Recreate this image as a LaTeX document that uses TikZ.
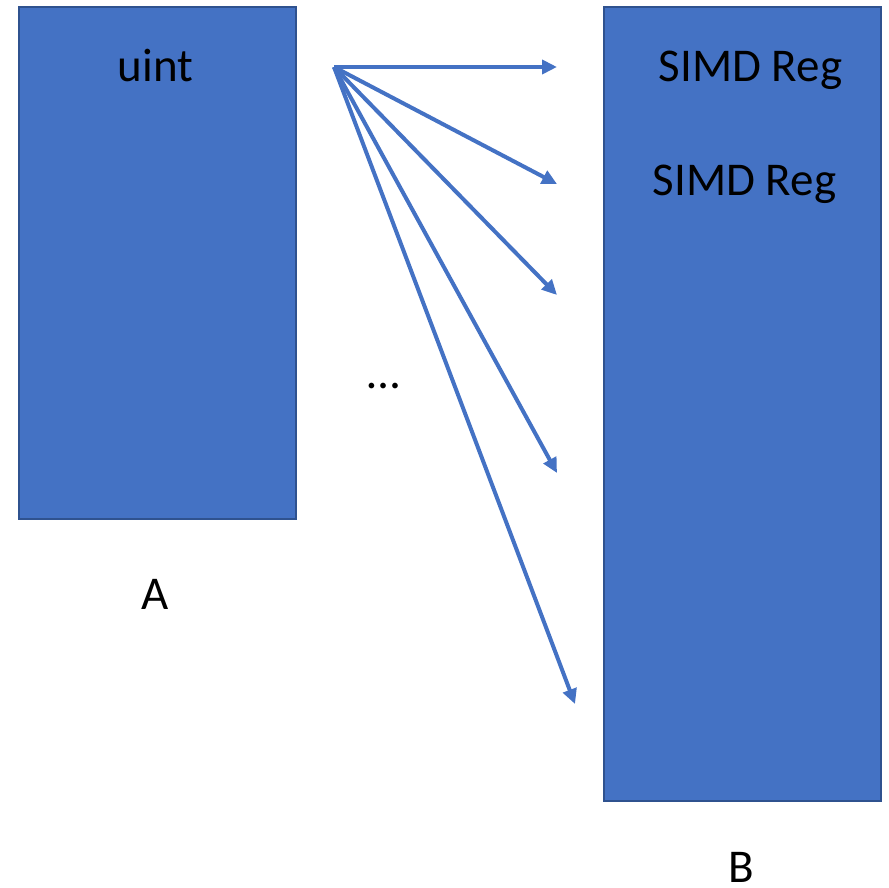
\documentclass[tikz,border=0pt]{standalone}
\usepackage{fontspec}
\setmainfont{Carlito}
\usetikzlibrary{arrows.meta}
\definecolor{boxfill}{HTML}{4472C4}
\definecolor{boxline}{HTML}{2F528F}
\begin{document}
\begin{tikzpicture}[x=1pt,y=-1pt,
  blockbox/.style={draw=boxline, fill=boxfill, line width=2pt, inner sep=0pt},
  lbl/.style={font=\fontsize{47}{56}\selectfont, anchor=base, inner sep=0pt, text=black},
  fanarrow/.style={draw=boxfill, line width=4pt, -{Triangle[length=15pt,width=14pt]}}]
\useasboundingbox (0,0) rectangle (889,888);
\node[blockbox, minimum width=277pt, minimum height=512pt] (A) at (157.5,263) {};
\node[blockbox, minimum width=277pt, minimum height=794pt] (B) at (742.5,404) {};
\node[lbl] (uint) at (155.5,82) {uint};
\node[lbl] (reg1) at (750.5,82) {SIMD Reg};
\node[lbl] (reg2) at (744.5,195) {SIMD Reg};
\node[lbl] (dots) at (383.5,388) {…};
\node[lbl] (la) at (155.5,609) {A};
\node[lbl] (lb) at (741,882) {B};
\coordinate (o) at (334,67);
\coordinate (e1) at (557,67);
\coordinate (e2) at (557,184);
\coordinate (e3) at (557,295);
\coordinate (e4) at (557,473);
\coordinate (e5) at (575,704);
\foreach \e in {e1,e2,e3,e4,e5} \draw[fanarrow] (o) -- (\e);
\end{tikzpicture}
\end{document}
